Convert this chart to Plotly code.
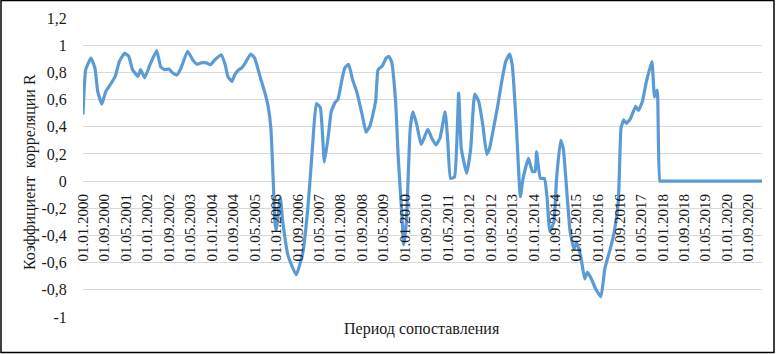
import pandas as pd
import plotly.graph_objects as go

# ---- data ----
dates = [
    "2000-01-01", "2000-02-01", "2000-04-01", "2000-05-16", "2000-06-16", "2000-08-01",
    "2000-09-16", "2000-11-16", "2001-01-01", "2001-02-16", "2001-04-16", "2001-06-01",
    "2001-07-16", "2001-09-16", "2001-10-16", "2001-12-01", "2002-02-01", "2002-04-16",
    "2002-06-01", "2002-07-16", "2002-09-01", "2002-10-16", "2002-12-01", "2003-01-16",
    "2003-04-01", "2003-06-01", "2003-07-16", "2003-09-01", "2003-11-01", "2003-12-16",
    "2004-02-01", "2004-04-16", "2004-06-01", "2004-07-01", "2004-08-16", "2004-09-16",
    "2004-11-01", "2004-12-01", "2005-01-16", "2005-03-16", "2005-05-01", "2005-07-01",
    "2005-09-01", "2005-10-01", "2005-11-01", "2005-11-16", "2005-12-01", "2005-12-16",
    "2006-01-01", "2006-02-16", "2006-03-16", "2006-05-16", "2006-08-16", "2006-11-01",
    "2007-01-01", "2007-02-16", "2007-04-01", "2007-05-16", "2007-07-01", "2007-08-16",
    "2007-09-16", "2007-11-01", "2007-12-01", "2008-01-16", "2008-02-16", "2008-04-01",
    "2008-05-16", "2008-07-01", "2008-09-01", "2008-10-16", "2008-12-01", "2009-02-01",
    "2009-03-01", "2009-04-16", "2009-06-01", "2009-07-01", "2009-08-01", "2009-09-16",
    "2009-10-16", "2009-12-01", "2009-12-16", "2010-01-16", "2010-03-01", "2010-04-01",
    "2010-05-16", "2010-07-01", "2010-08-01", "2010-09-16", "2010-11-01", "2010-12-16",
    "2011-02-01", "2011-04-01", "2011-05-01", "2011-06-01", "2011-07-16", "2011-09-01",
    "2011-10-01", "2011-12-01", "2012-01-16", "2012-03-01", "2012-04-16", "2012-06-01",
    "2012-07-16", "2012-08-16", "2012-10-01", "2012-11-16", "2013-01-01", "2013-02-16",
    "2013-04-01", "2013-05-01", "2013-06-16", "2013-08-01", "2013-09-01", "2013-11-01",
    "2013-12-16", "2014-01-16", "2014-02-01", "2014-03-16", "2014-05-01", "2014-06-01",
    "2014-07-01", "2014-08-16", "2014-09-16", "2014-11-01", "2014-12-01", "2015-01-16",
    "2015-02-16", "2015-04-01", "2015-05-01", "2015-06-16", "2015-08-01", "2015-09-01",
    "2015-10-16", "2015-12-01", "2016-02-01", "2016-03-16", "2016-05-16", "2016-07-01",
    "2016-08-16", "2016-09-01", "2016-09-16", "2016-10-16", "2016-11-16", "2017-01-01",
    "2017-03-01", "2017-04-01", "2017-05-16", "2017-07-01", "2017-09-01", "2017-10-01",
    "2017-11-01", "2017-12-01", "2018-01-01", "2018-06-01", "2019-06-01", "2020-06-01",
    "2021-02-01",
]
r_values = [
    0.49, 0.82, 0.905, 0.83, 0.66, 0.566,
    0.66, 0.72, 0.77, 0.88, 0.94, 0.92,
    0.82, 0.77, 0.82, 0.76, 0.86, 0.96,
    0.84, 0.82, 0.825, 0.795, 0.78, 0.83,
    0.955, 0.89, 0.86, 0.87, 0.87, 0.856,
    0.89, 0.93, 0.856, 0.77, 0.733, 0.78,
    0.82, 0.83, 0.87, 0.935, 0.905, 0.77,
    0.635, 0.55, 0.39, 0.19, -0.05, -0.30,
    -0.36, -0.12, -0.30, -0.55, -0.69, -0.52,
    -0.15, 0.25, 0.57, 0.54, 0.14, 0.34,
    0.51, 0.58, 0.60, 0.745, 0.83, 0.86,
    0.745, 0.66, 0.49, 0.36, 0.41, 0.585,
    0.82, 0.845, 0.905, 0.918, 0.88, 0.585,
    0.17, -0.30, -0.47, -0.30, 0.39, 0.51,
    0.41, 0.27, 0.31, 0.38, 0.315, 0.266,
    0.315, 0.51, 0.29, 0.02, 0.03, 0.647,
    0.24, 0.057, 0.24, 0.64, 0.585, 0.413,
    0.197, 0.24, 0.39, 0.55, 0.73, 0.88,
    0.935, 0.856, 0.413, -0.115, 0.02, 0.167,
    0.07, 0.07, 0.216, 0.02, 0.02, -0.13,
    -0.37, -0.30, 0.02, 0.30, 0.24, -0.13,
    -0.37, -0.50, -0.45, -0.55, -0.72, -0.67,
    -0.72, -0.79, -0.85, -0.645, -0.50, -0.374,
    -0.15, 0.14, 0.39, 0.45, 0.425, 0.46,
    0.55, 0.52, 0.585, 0.733, 0.88, 0.62,
    0.67, 0.0, 0.0, 0.0, 0.0, 0.0,
    0.0,
]

x_tick_labels = [
    "01.01.2000", "01.09.2000", "01.05.2001", "01.01.2002", "01.09.2002", "01.05.2003",
    "01.01.2004", "01.09.2004", "01.05.2005", "01.01.2006", "01.09.2006", "01.05.2007",
    "01.01.2008", "01.09.2008", "01.05.2009", "01.01.2010", "01.09.2010", "01.05.2011",
    "01.01.2012", "01.09.2012", "01.05.2013", "01.01.2014", "01.09.2014", "01.05.2015",
    "01.01.2016", "01.09.2016", "01.05.2017", "01.01.2018", "01.09.2018", "01.05.2019",
    "01.01.2020", "01.09.2020",
]
y_tick_values = [1.2, 1.0, 0.8, 0.6, 0.4, 0.2, 0.0, -0.2, -0.4, -0.6, -0.8, -1.0]
y_tick_labels = ["1,2", "1", "0,8", "0,6", "0,4", "0,2", "0", "-0,2", "-0,4", "-0,6", "-0,8", "-1"]

y_title = "Коэффициент  корреляции R"
x_title = "Период сопоставления"

# ---- figure ----
FONT = "Liberation Serif, 'Times New Roman', serif"
TXT = "#1a1a1a"
x_tick_vals = pd.to_datetime(x_tick_labels, format="%d.%m.%Y")

fig = go.Figure()
fig.add_trace(go.Scatter(
    x=pd.to_datetime(dates), y=r_values, mode="lines",
    line=dict(color="#5B9BD5", width=3.2, shape="spline", smoothing=0.4),
    hoverinfo="skip", showlegend=False,
))

W, H = 776, 354
L, R, T, B = 83, 14, 18, 37
pw, ph = W - L - R, H - T - B

y_min, y_max = -1.0, 1.2
zero_pos = (0 - y_min) / (y_max - y_min)

fig.update_layout(
    width=W, height=H,
    margin=dict(l=L, r=R, t=T, b=B, autoexpand=False),
    paper_bgcolor="white", plot_bgcolor="white",
    font=dict(family=FONT, color=TXT, size=15),
    showlegend=False,
    xaxis=dict(
        type="date",
        range=["2000-01-01", "2021-02-01"],
        tickmode="array", tickvals=x_tick_vals, ticktext=x_tick_labels,
        tickangle=-90,
        tickfont=dict(family=FONT, size=15, color=TXT),
        showgrid=False, zeroline=False, showline=False,
        ticks="outside", ticklen=6, tickcolor="rgba(0,0,0,0)",
        anchor="free", position=zero_pos, automargin=False,
    ),
    yaxis=dict(
        range=[y_min, y_max],
        tickmode="array", tickvals=y_tick_values, ticktext=y_tick_labels,
        tickfont=dict(family=FONT, size=16, color=TXT),
        showgrid=True, gridcolor="#D9D9D9", gridwidth=1,
        zeroline=False, showline=False,
        ticks="outside", ticklen=12, tickcolor="rgba(0,0,0,0)",
        automargin=False,
    ),
    annotations=[
        dict(text=y_title, xref="paper", yref="paper",
             x=(30 - L) / pw, y=1 - (172 - T) / ph,
             textangle=-90, showarrow=False, xanchor="center", yanchor="middle",
             font=dict(family=FONT, size=16, color=TXT)),
        dict(text=x_title, xref="paper", yref="paper",
             x=(422 - L) / pw, y=1 - (329 - T) / ph,
             showarrow=False, xanchor="center", yanchor="middle",
             font=dict(family=FONT, size=16, color=TXT)),
    ],
    shapes=[
        dict(type="rect", xref="paper", yref="paper",
             x0=(1 - L) / pw, x1=(774 - L) / pw,
             y0=1 - (352.5 - T) / ph, y1=1 - (0.5 - T) / ph,
             line=dict(color="black", width=1.5), fillcolor="rgba(0,0,0,0)",
             layer="above"),
    ],
)

fig.write_html(
    "out.html",
    config={"displayModeBar": False},
    post_script="document.body.style.margin='0';document.body.style.padding='0';",
)
